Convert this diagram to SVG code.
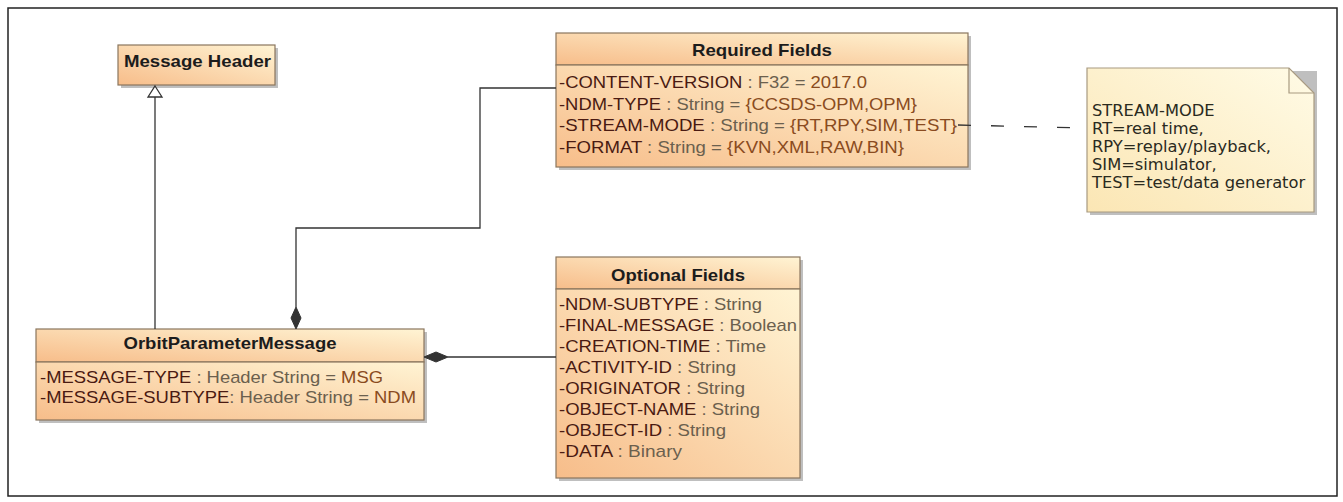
<svg xmlns="http://www.w3.org/2000/svg" width="1343" height="502" viewBox="0 0 1343 502">
<defs>
<linearGradient id="g" x1="0" y1="1" x2="1" y2="0"><stop offset="0" stop-color="#f7bd8a"/><stop offset="1" stop-color="#fff4d4"/></linearGradient>
<linearGradient id="gn" x1="0" y1="1" x2="1" y2="0"><stop offset="0" stop-color="#fbe6b4"/><stop offset="1" stop-color="#fffbe6"/></linearGradient>
<style>
.box{fill:url(#g);stroke:#8a765e;stroke-width:1.2}
.sh{fill:#a9a9a9;opacity:.75}
.h{font-family:"Liberation Sans",Arial,sans-serif;font-weight:bold;font-size:17px;fill:#1c1c1c}
.a{font-family:"Liberation Sans",Arial,sans-serif;font-size:17px}
.n{fill:#4a1a12}.t{fill:#6b604e}.v{fill:#8a4b20}
.nt{font-family:"DejaVu Sans",sans-serif;font-size:16.3px;fill:#2a2a1e}
.ln{fill:none;stroke:#333;stroke-width:1.3}
</style>
</defs>
<rect x="0" y="0" width="1343" height="502" fill="#fff"/>
<rect x="8" y="8" width="1329" height="488" fill="none" stroke="#222" stroke-width="1.5"/>
<g id="message-header">
<rect class="sh" x="121" y="48" width="157" height="40"/>
<rect class="box" x="118" y="45" width="157" height="40"/>
<text class="h" x="124" y="67" textLength="147" lengthAdjust="spacingAndGlyphs">Message Header</text>
</g>
<g id="required-fields">
<rect class="sh" x="559" y="36" width="412" height="134"/>
<rect class="box" x="556" y="33" width="412" height="32"/>
<rect class="box" x="556" y="65" width="412" height="102"/>
<text class="h" x="762" y="56" text-anchor="middle" textLength="140" lengthAdjust="spacingAndGlyphs">Required Fields</text>
<text class="a" x="559" y="88" textLength="308" lengthAdjust="spacingAndGlyphs"><tspan class="n">-CONTENT-VERSION</tspan><tspan class="t"> : F32 = </tspan><tspan class="v">2017.0</tspan></text>
<text class="a" x="559" y="110" textLength="358" lengthAdjust="spacingAndGlyphs"><tspan class="n">-NDM-TYPE</tspan><tspan class="t"> : String = </tspan><tspan class="v">{CCSDS-OPM,OPM}</tspan></text>
<text class="a" x="559" y="131" textLength="398" lengthAdjust="spacingAndGlyphs"><tspan class="n">-STREAM-MODE</tspan><tspan class="t"> : String = </tspan><tspan class="v">{RT,RPY,SIM,TEST}</tspan></text>
<text class="a" x="559" y="153" textLength="345" lengthAdjust="spacingAndGlyphs"><tspan class="n">-FORMAT</tspan><tspan class="t"> : String = </tspan><tspan class="v">{KVN,XML,RAW,BIN}</tspan></text>
</g>
<g id="note">
<path d="M1090,71 H1317 V215 H1090 Z" class="sh"/>
<path d="M1087,68 H1289 L1314,93 V212 H1087 Z" fill="url(#gn)" stroke="#a89a80" stroke-width="1.2"/>
<path d="M1289,68 V93 H1314" fill="none" stroke="#a89a80" stroke-width="1.2"/>
<text class="nt" x="1092" y="116">STREAM-MODE</text>
<text class="nt" x="1092" y="134">RT=real time,</text>
<text class="nt" x="1092" y="152">RPY=replay/playback,</text>
<text class="nt" x="1092" y="170">SIM=simulator,</text>
<text class="nt" x="1092" y="188">TEST=test/data generator</text>
</g>
<g id="orbit-parameter-message">
<rect class="sh" x="39" y="332" width="388" height="91"/>
<rect class="box" x="36" y="329" width="388" height="33"/>
<rect class="box" x="36" y="362" width="388" height="58"/>
<text class="h" x="230" y="349" text-anchor="middle" textLength="213" lengthAdjust="spacingAndGlyphs">OrbitParameterMessage</text>
<text class="a" x="40" y="383" textLength="343" lengthAdjust="spacingAndGlyphs"><tspan class="n">-MESSAGE-TYPE</tspan><tspan class="t"> : Header String = </tspan><tspan class="v">MSG</tspan></text>
<text class="a" x="40" y="403" textLength="376" lengthAdjust="spacingAndGlyphs"><tspan class="n">-MESSAGE-SUBTYPE</tspan><tspan class="t">: Header String = </tspan><tspan class="v">NDM</tspan></text>
</g>
<g id="optional-fields">
<rect class="sh" x="559" y="260" width="244" height="221"/>
<rect class="box" x="556" y="257" width="244" height="32"/>
<rect class="box" x="556" y="289" width="244" height="189"/>
<text class="h" x="678" y="281" text-anchor="middle" textLength="134" lengthAdjust="spacingAndGlyphs">Optional Fields</text>
<text class="a" x="559" y="310" textLength="203" lengthAdjust="spacingAndGlyphs"><tspan class="n">-NDM-SUBTYPE</tspan><tspan class="t"> : String</tspan></text>
<text class="a" x="559" y="331" textLength="238" lengthAdjust="spacingAndGlyphs"><tspan class="n">-FINAL-MESSAGE</tspan><tspan class="t"> : Boolean</tspan></text>
<text class="a" x="559" y="352" textLength="207" lengthAdjust="spacingAndGlyphs"><tspan class="n">-CREATION-TIME</tspan><tspan class="t"> : Time</tspan></text>
<text class="a" x="559" y="373" textLength="177" lengthAdjust="spacingAndGlyphs"><tspan class="n">-ACTIVITY-ID</tspan><tspan class="t"> : String</tspan></text>
<text class="a" x="559" y="394" textLength="186" lengthAdjust="spacingAndGlyphs"><tspan class="n">-ORIGINATOR</tspan><tspan class="t"> : String</tspan></text>
<text class="a" x="559" y="415" textLength="201" lengthAdjust="spacingAndGlyphs"><tspan class="n">-OBJECT-NAME</tspan><tspan class="t"> : String</tspan></text>
<text class="a" x="559" y="436" textLength="167" lengthAdjust="spacingAndGlyphs"><tspan class="n">-OBJECT-ID</tspan><tspan class="t"> : String</tspan></text>
<text class="a" x="559" y="457" textLength="123" lengthAdjust="spacingAndGlyphs"><tspan class="n">-DATA</tspan><tspan class="t"> : Binary</tspan></text>
</g>
<g id="connectors">
<polyline class="ln" points="155,97 155,329"/>
<polygon points="155,86 162,97 148,97" fill="#fff" stroke="#333" stroke-width="1.3"/>
<polyline class="ln" points="556,88 480,88 480,228 296,228 296,307"/>
<polygon points="296,307 301,318 296,329 291,318" fill="#333" stroke="#333"/>
<polyline class="ln" points="556,357 448,357"/>
<polygon points="424,357 436,352 448,357 436,362" fill="#333" stroke="#333"/>
<line x1="958" y1="125" x2="1087" y2="128" stroke="#333" stroke-width="1.3" stroke-dasharray="13 20"/>
</g>
</svg>
